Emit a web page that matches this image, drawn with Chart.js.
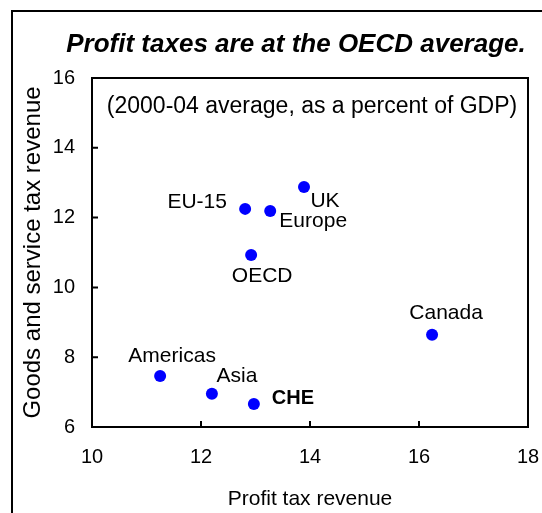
<!DOCTYPE html>
<html>
<head>
<title>Profit taxes</title>
<script src="https://cdn.jsdelivr.net/npm/chart.js"></script>
<style>
body{
  margin:0;
  background:#fff;
}
</style>
</head>
<body>
<canvas id="chart" width="542" height="513"></canvas>
<script>

// ================= DATA =================
const names     = ["UK", "EU-15", "Europe", "OECD", "Canada", "Americas", "Asia", "CHE"];
const profitTax = [13.89, 12.81, 13.27, 12.92, 16.24, 11.25, 12.20, 12.97];
const goodsTax  = [12.88, 12.25, 12.19, 10.93, 8.64, 7.46, 6.95, 6.66];
const xTicks = [10, 12, 14, 16, 18];
const yTicks = [6, 8, 10, 12, 14, 16];

// ================= STYLE =================
const FONT = "'Liberation Sans', Arial, sans-serif";
// where each name sits relative to its dot (px)
const labelOffsets = {
  "UK": [21, 14],
  "EU-15": [-48, -7],
  "Europe": [43, 10],
  "OECD": [11, 21],
  "Canada": [14, -22],
  "Americas": [12, -20],
  "Asia": [25, -18],
  "CHE": [39, -5]
};

// frame, title, box, inner ticks, note and point names
const decor = {
  id: 'decor',
  beforeDraw(chart){
    const c = chart.ctx;
    c.save();
    c.fillStyle = '#fff';
    c.fillRect(0, 0, chart.width, chart.height);
    c.strokeStyle = '#000';
    c.lineWidth = 2;
    c.beginPath();
    c.moveTo(12, chart.height);
    c.lineTo(12, 11);
    c.lineTo(chart.width, 11);
    c.stroke();
    c.fillStyle = '#000';
    c.font = "italic bold 26px " + FONT;
    c.textAlign = 'center';
    c.textBaseline = 'middle';
    c.fillText("Profit taxes are at the OECD average.", 296, 45);
    c.restore();
  },
  beforeDatasetsDraw(chart){
    const c = chart.ctx;
    const a = chart.chartArea;
    const sx = chart.scales.x, sy = chart.scales.y;
    c.save();
    c.strokeStyle = '#000';
    c.lineWidth = 2;
    c.strokeRect(a.left, a.top, a.right - a.left, a.bottom - a.top);
    c.beginPath();
    sx.ticks.forEach(t => {
      const px = sx.getPixelForValue(t.value);
      c.moveTo(px, a.bottom);
      c.lineTo(px, a.bottom - 6);
    });
    sy.ticks.forEach(t => {
      const py = sy.getPixelForValue(t.value);
      c.moveTo(a.left, py);
      c.lineTo(a.left + 6, py);
    });
    c.stroke();
    c.fillStyle = '#000';
    c.font = "23px " + FONT;
    c.textAlign = 'center';
    c.textBaseline = 'middle';
    c.fillText("(2000-04 average, as a percent of GDP)", (a.left + a.right) / 2 + 2, a.top + 29);
    c.restore();
  },
  afterDatasetsDraw(chart){
    const c = chart.ctx;
    const pts = chart.getDatasetMeta(0).data;
    c.save();
    c.fillStyle = '#000';
    c.textAlign = 'center';
    c.textBaseline = 'middle';
    pts.forEach((p, i) => {
      const n = names[i];
      const o = labelOffsets[n];
      c.font = (n === "CHE" ? "bold 20px " : "21px ") + FONT;
      c.fillText(n, p.x + o[0], p.y + o[1]);
    });
    c.restore();
  }
};

// ================= CHART =================
new Chart(document.getElementById("chart"), {
  type: 'scatter',
  data: {
    datasets: [{
      data: profitTax.map((v, i) => ({x: v, y: goodsTax[i]})),
      backgroundColor: '#0000ff',
      borderWidth: 0,
      pointRadius: 6
    }]
  },
  options: {
    responsive: false,
    animation: false,
    layout: {padding: {left: 14, right: 14, top: 78, bottom: 0}},
    plugins: {
      legend: {display: false},
      tooltip: {enabled: false},
      title: {display: false}
    },
    scales: {
      x: {
        type: 'linear',
        min: 10,
        max: 18,
        afterBuildTicks: s => { s.ticks = xTicks.map(v => ({value: v})); },
        afterFit: s => { s.height = 86; s.paddingLeft = 0; s.paddingRight = 0; },
        grid: {display: false, drawTicks: false},
        border: {display: false},
        ticks: {color: '#000', font: {family: FONT, size: 20}, padding: 18},
        title: {
          display: true,
          text: 'Profit tax revenue',
          color: '#000',
          font: {family: FONT, size: 21},
          padding: {top: 0, bottom: 1}
        }
      },
      y: {
        type: 'linear',
        min: 6,
        max: 16,
        afterBuildTicks: s => { s.ticks = yTicks.map(v => ({value: v})); },
        afterFit: s => { s.width = 78; s.paddingTop = 0; s.paddingBottom = 0; },
        grid: {display: false, drawTicks: false},
        border: {display: false},
        ticks: {color: '#000', font: {family: FONT, size: 20}, padding: 17},
        title: {
          display: true,
          text: 'Goods and service tax revenue',
          color: '#000',
          font: {family: FONT, size: 24},
          padding: {top: 5, bottom: 0}
        }
      }
    }
  },
  plugins: [decor]
});

</script>
</body>
</html>
